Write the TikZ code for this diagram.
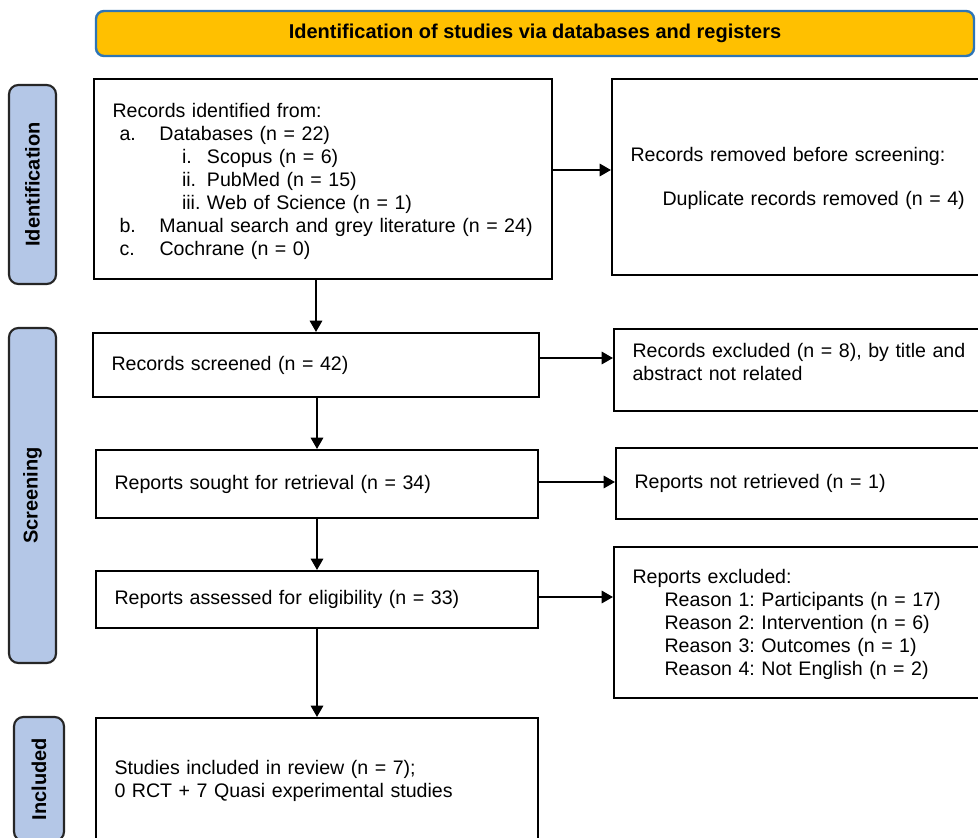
\documentclass[tikz,border=0pt]{standalone}
\usepackage{fontspec}
\setmainfont{Liberation Sans}
\usetikzlibrary{arrows.meta,calc}
\newlength\px \setlength\px{0.75pt}
\definecolor{hdrfill}{RGB}{255,192,0}
\definecolor{hdrline}{RGB}{46,117,182}
\definecolor{sidefill}{RGB}{180,199,231}
\definecolor{sideline}{RGB}{38,38,38}
\frenchspacing
\begin{document}
\begin{tikzpicture}[x=0.75pt,y=-0.75pt,
  every node/.style={font=\fontsize{14.7pt}{17.25pt}\selectfont\frenchspacing},
  bx/.style={draw=black, line width=1.6pt, fill=white, inner xsep=18.5\px, inner ysep=0pt, align=left, anchor=center},
  hdr/.style={draw=hdrline, line width=1.8pt, fill=hdrfill, rounded corners=6pt, inner sep=0pt,
    font=\fontsize{15pt}{17.25pt}\selectfont\bfseries},
  side/.style={draw=sideline, line width=1.6pt, fill=sidefill, rounded corners=7pt, inner sep=0pt,
    font=\fontsize{15pt}{17.25pt}\selectfont\bfseries},
  conn/.style={draw=black, line width=0.9pt, -{Triangle[length=8.5pt,width=9.5pt]}},
]
\useasboundingbox (0,0) rectangle (978,838);
\clip (0,0) rectangle (978,838);
\fill[white] (0,0) rectangle (978,838);

% header
\node[hdr, minimum width=878\px, minimum height=45\px] (hdr) at (535,33.5)
  {Identification of studies via databases and registers};

% side labels
\node[side, minimum width=47\px, minimum height=199\px] (sid) at (32.5,184.5) {\rotatebox{90}{Identification}};
\node[side, minimum width=47\px, minimum height=335\px] (ssc) at (32.5,495.5) {\rotatebox{90}{Screening}};
\node[side, minimum width=50\px, minimum height=124\px] (sin) at (39,779) {\rotatebox{90}{Included}};

% main column
\node[bx, text width=421\px, minimum height=200\px] (b1) at (323,179) {%
\rule{0pt}{20\px}Records identified from:\\
\hspace*{7\px}\makebox[40\px][l]{a.}Databases (n = 22)\\
\hspace*{69.5\px}\makebox[25\px][l]{i.}Scopus (n = 6)\\
\hspace*{69.5\px}\makebox[25\px][l]{ii.}PubMed (n = 15)\\
\hspace*{69.5\px}\makebox[25\px][l]{iii.}Web of Science (n = 1)\\
\hspace*{7\px}\makebox[40\px][l]{b.}\mbox{Manual search and grey literature (n = 24)}\\
\hspace*{7\px}\makebox[40\px][l]{c.}Cochrane (n = 0)};

\node[bx, text width=409\px, minimum height=64\px] (b2) at (316,365) {Records screened (n = 42)};
\node[bx, text width=405\px, minimum height=68\px] (b3) at (317,484) {Reports sought for retrieval (n = 34)};
\node[bx, text width=405\px, minimum height=57\px] (b4) at (317,599.5) {Reports assessed for eligibility (n = 33)};
\node[bx, text width=405\px, minimum height=123\px] (b5) at (317,779.5) {\rule{0pt}{18\px}Studies included in review (n = 7);\\0 RCT + 7 Quasi experimental studies};

% right column
\node[bx, text width=351\px, minimum height=196\px] (rb1) at (806,177) {%
\rule{0pt}{17\px}Records removed before screening:\\[21\px]
\hspace*{32\px}Duplicate records removed (n = 4)};
\node[bx, text width=349\px, minimum height=82\px] (rb2) at (807,370) {%
Records excluded (n = 8), by title and\\abstract not related\\[-6\px]\mbox{}};
\node[bx, text width=347\px, minimum height=71\px] (rb3) at (808,483.5) {Reports not retrieved (n = 1)};
\node[bx, text width=349\px, minimum height=151\px] (rb4) at (807,622.5) {%
\rule{0pt}{18\px}Reports excluded:\\
\hspace*{32\px}Reason 1: Participants (n = 17)\\
\hspace*{32\px}Reason 2: Intervention (n = 6)\\
\hspace*{32\px}Reason 3: Outcomes (n = 1)\\
\hspace*{32\px}Reason 4: Not English (n = 2)};

% connectors
\coordinate (a1) at ($(b1.east)+(0,-9)$);
\coordinate (a2) at ($(b2.east)+(0,-7)$);
\coordinate (a3) at ($(b3.east)+(0,-2)$);
\coordinate (a4) at ($(b4.east)+(0,-2.5)$);
\draw[conn] (a1) -- (a1 -| rb1.west);
\draw[conn] (a2) -- (a2 -| rb2.west);
\draw[conn] (a3) -- (a3 -| rb3.west);
\draw[conn] (a4) -- (a4 -| rb4.west);

\draw[conn] (b2.north |- b1.south) -- (b2.north);
\draw[conn] (b3.north |- b2.south) -- (b3.north);
\draw[conn] (b4.north |- b3.south) -- (b4.north);
\draw[conn] (b5.north |- b4.south) -- (b5.north);
\end{tikzpicture}
\end{document}
